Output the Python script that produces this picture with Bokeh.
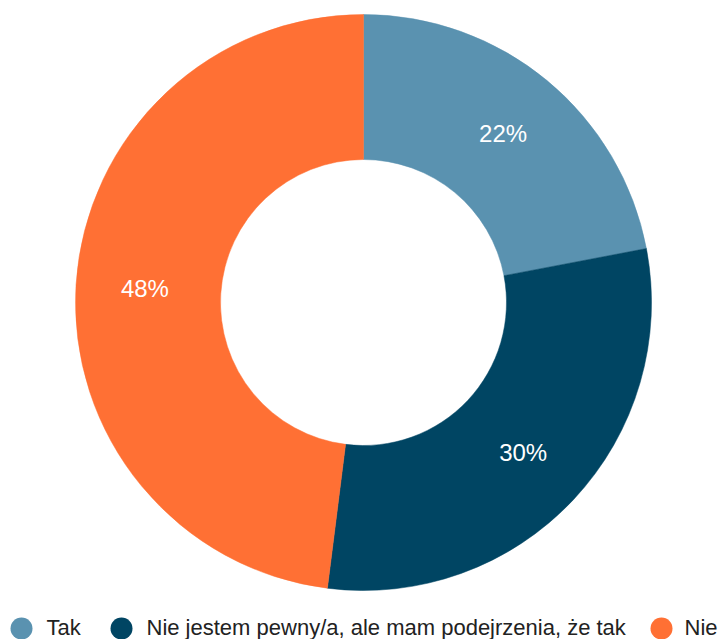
import numpy as np
from bokeh.plotting import figure
from bokeh.models import Range1d, ColumnDataSource
from bokeh.core.properties import value
from bokeh.embed import file_html
from bokeh.resources import INLINE

categories = ["Tak", "Nie jestem pewny/a, ale mam podejrzenia, że tak", "Nie"]
shares = [22, 30, 48]
colors = ["#5a92b0", "#004563", "#ff7034"]

# layout constants
W, H = 719, 639
R_OUT, R_IN, R_LABEL = 288, 143, 219
FONT = value("Liberation Sans")

vals = np.array(shares, dtype=float)
frac = vals / vals.sum()
ends_c = np.cumsum(frac)
starts_c = ends_c - frac
start_ang = np.pi / 2 - 2 * np.pi * starts_c
end_ang = np.pi / 2 - 2 * np.pi * ends_c
mid_ang = (start_ang + end_ang) / 2

src = ColumnDataSource(dict(
    cat=categories, color=colors, start=start_ang, end=end_ang,
    lx=R_LABEL * np.cos(mid_ang), ly=R_LABEL * np.sin(mid_ang),
    lbl=[f"{v:.0f}%" for v in vals],
))

p = figure(width=W, height=H, output_backend="svg", toolbar_location=None,
           x_range=Range1d(-363, 356), y_range=Range1d(-337, 302),
           min_border=0)
p.axis.visible = False
p.grid.visible = False
p.outline_line_color = None
p.background_fill_color = "white"
p.border_fill_color = "white"

p.annular_wedge(x=0, y=0, inner_radius=R_IN, outer_radius=R_OUT,
                start_angle="start", end_angle="end", direction="clock",
                fill_color="color", line_color="color", line_width=0.5,
                source=src)

p.text(x="lx", y="ly", text="lbl", text_color="white", text_font=FONT,
       text_font_size="24px", text_align="center", text_baseline="middle",
       source=src)

# legend (manual, single row at bottom)
leg_circle_y = -326
leg_text_y = -325
leg_circle_x = [-342, -242, 298]
leg_text_x = [-317, -217, 321]
leg = ColumnDataSource(dict(cx=leg_circle_x, tx=leg_text_x,
                            cy=[leg_circle_y] * 3, ty=[leg_text_y] * 3,
                            color=colors, cat=categories))
p.scatter(x="cx", y="cy", size=22, marker="circle", fill_color="color",
          line_color=None, source=leg)
p.text(x="tx", y="ty", text="cat", text_color="#222222", text_font=FONT,
       text_font_size="22px", text_align="left", text_baseline="alphabetic",
       source=leg)

open("out.html", "w").write(file_html(p, INLINE))
